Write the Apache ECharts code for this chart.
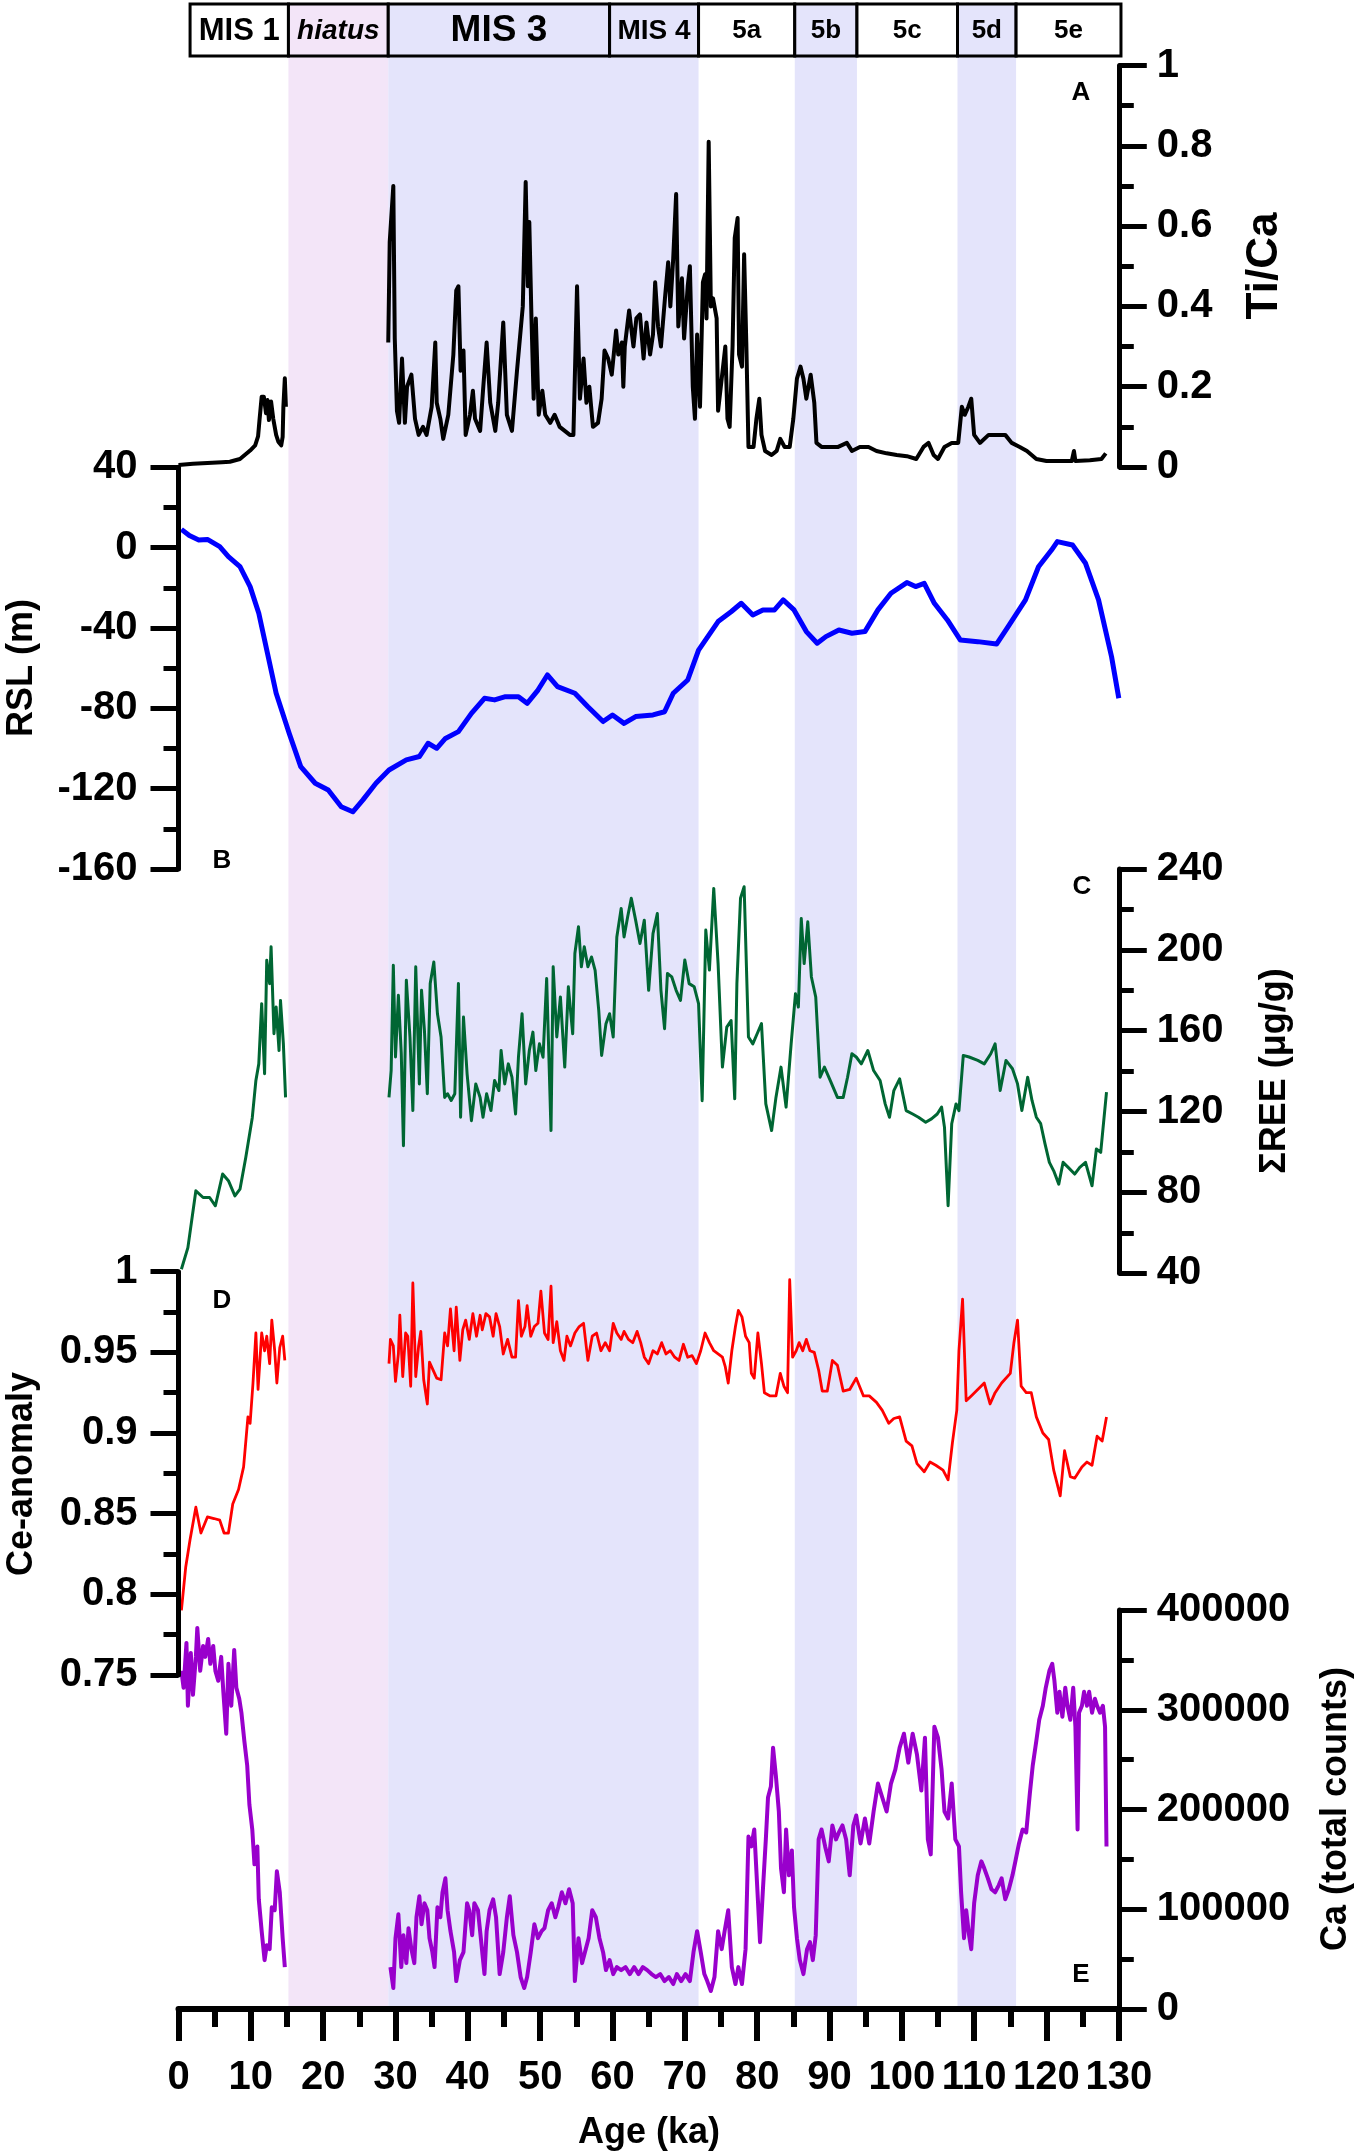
<!DOCTYPE html>
<html><head><meta charset="utf-8">
<script src="https://cdn.jsdelivr.net/npm/echarts@6/dist/echarts.min.js"></script>
<style>html,body{margin:0;padding:0;background:#fff}#c{width:1355px;height:2153px}</style>
</head><body><div id="c"></div>
<script>
// ---------- DATA ----------
const misLabels = ['MIS 1','hiatus','MIS 3','MIS 4','5a','5b','5c','5d','5e'];
const misStart  = [1.6, 15.2, 29.0, 59.6, 71.9, 85.2, 93.8, 107.7, 115.8];
const misEnd    = [15.2, 29.0, 59.6, 71.9, 85.2, 93.8, 107.7, 115.8, 130.3];

const bandLabels = ['hiatus','MIS 3-4','5b','5d'];
const bandStart  = [15.2, 29.0, 85.2, 107.7];
const bandEnd    = [29.0, 71.9, 93.8, 115.8];

const xTicks = [0,10,20,30,40,50,60,70,80,90,100,110,120,130];

// A: Ti/Ca
const tiAge1 = [0,2,4,6,7.1,8.5,9.9,10.6,11.0,11.2,11.5,11.8,12.1,12.3,12.5,12.8,13.1,13.5,13.8,14.2,14.4,14.5,14.7,14.85];
const tiVal1 = [0.005,0.008,0.01,0.012,0.013,0.02,0.041,0.054,0.076,0.117,0.175,0.175,0.134,0.167,0.117,0.163,0.12,0.08,0.063,0.054,0.075,0.15,0.221,0.15];
const tiAge2 = [29.0,29.2,29.7,29.9,30.2,30.5,30.9,31.3,31.6,32.2,32.7,33.2,33.8,34.3,35.0,35.5,35.7,36.2,36.6,37.3,38.0,38.4,38.7,39.0,39.4,39.7,40.3,40.7,41.0,41.7,42.1,42.6,43.1,43.8,44.2,44.9,45.4,46.1,46.8,47.1,47.6,48.0,48.3,48.5,48.8,49.1,49.4,49.8,50.3,50.7,51.4,52.0,52.7,53.4,54.1,54.6,55.1,55.5,56.0,56.4,56.8,57.3,58.0,58.5,58.9,59.4,59.9,60.5,60.8,61.3,61.5,61.7,62.3,62.9,63.3,63.8,64.3,64.7,65.2,65.6,65.9,66.3,66.7,67.3,67.7,68.0,68.4,68.8,69.1,69.6,69.9,70.4,70.7,71.1,71.4,71.7,72.1,72.5,72.8,73.0,73.3,73.6,73.9,74.4,74.6,75.1,75.6,75.9,76.2,76.6,76.9,77.3,77.5,77.9,78.2,78.5,78.8,79.5,79.9,80.3,80.6,81.1,82.0,82.7,83.2,83.8,84.5,85.0,85.5,86.0,86.4,86.8,87.4,87.9,88.2,88.9,90.1,91.2,92.4,93.1,94.2,95.4,96.5,97.9,99.3,100.7,102.0,103.0,103.7,104.4,105.0,105.9,106.9,107.8,108.3,108.7,109.2,109.6,110.0,110.8,112.0,113.1,114.3,115.2,116.3,117.3,118.6,120.0,121.9,123.5,123.8,124.0,126.0,127.6,128.2];
const tiVal2 = [0.31,0.56,0.70,0.32,0.14,0.11,0.27,0.11,0.20,0.23,0.12,0.08,0.10,0.08,0.15,0.31,0.16,0.12,0.07,0.13,0.28,0.44,0.45,0.24,0.29,0.08,0.13,0.19,0.12,0.09,0.19,0.31,0.16,0.09,0.16,0.36,0.13,0.09,0.24,0.30,0.40,0.71,0.45,0.61,0.37,0.17,0.37,0.13,0.19,0.13,0.11,0.13,0.10,0.09,0.08,0.08,0.45,0.17,0.27,0.16,0.20,0.10,0.11,0.17,0.29,0.27,0.23,0.34,0.28,0.31,0.20,0.30,0.39,0.30,0.37,0.38,0.27,0.36,0.28,0.33,0.46,0.35,0.30,0.43,0.51,0.40,0.52,0.68,0.35,0.47,0.32,0.45,0.50,0.20,0.12,0.33,0.15,0.46,0.48,0.37,0.81,0.40,0.42,0.37,0.14,0.22,0.30,0.12,0.10,0.30,0.57,0.62,0.28,0.25,0.53,0.31,0.05,0.05,0.12,0.17,0.08,0.04,0.03,0.04,0.07,0.05,0.05,0.12,0.22,0.25,0.22,0.17,0.23,0.16,0.06,0.05,0.05,0.05,0.06,0.04,0.05,0.05,0.04,0.034,0.03,0.027,0.02,0.05,0.06,0.03,0.02,0.05,0.06,0.06,0.15,0.13,0.15,0.17,0.08,0.06,0.08,0.08,0.08,0.06,0.05,0.04,0.02,0.015,0.015,0.015,0.04,0.015,0.017,0.02,0.034];

// B: RSL (m)
const rslAge = [0.4,1.5,2.8,4.0,5.7,6.9,8.5,9.9,11.1,12.3,13.5,15.3,16.9,18.9,20.7,22.5,24.1,25.5,27.3,29.1,31.5,33.3,34.5,35.7,36.9,38.7,40.5,42.3,43.7,45.2,47.0,48.2,49.7,51.0,52.4,54.8,56.6,58.7,60.0,61.6,63.2,65.6,67.2,68.4,70.4,71.9,74.6,76.4,77.8,79.4,80.8,82.4,83.6,85.1,86.8,88.3,89.5,91.3,93.1,94.9,96.7,98.5,100.7,101.9,103.1,104.5,106.3,108.1,110.5,113.1,114.7,117.1,118.9,120.7,121.5,123.6,125.4,127.2,129.0,130.0];
const rslVal = [9.1,6,3.8,4.1,0.5,-4.5,-9.5,-19.4,-32.7,-52.6,-72.5,-92.4,-109,-117.3,-120.7,-129,-131.5,-125.6,-117.3,-110.7,-105.7,-104,-97.4,-99.9,-95,-91.6,-82.5,-75,-75.8,-74.2,-74.2,-77.5,-70.9,-63.4,-69.2,-72.5,-79.2,-86.6,-83.3,-87.5,-84.1,-83.3,-81.7,-72.5,-65.9,-51,-36.8,-31.9,-27.7,-33.5,-31,-31,-26,-31,-41.8,-47.6,-44.3,-41,-42.6,-41.8,-31,-22.7,-17.4,-19.4,-17.8,-27.7,-36,-46,-46.8,-48,-39.3,-26,-9.5,-1.2,3,1.3,-7.8,-26,-54.3,-75];

// C: sum REE (µg/g)
const reeAge1 = [0.4,1.3,2.4,3.4,4.3,5.1,6.1,6.9,7.8,8.5,9.3,10.2,10.7,11.1,11.5,11.9,12.2,12.6,12.8,13.2,13.5,13.9,14.1,14.5,14.8];
const reeVal1 = [42,52.7,80.8,77.5,77.5,73.4,89.1,85.8,78.3,81.6,97.3,117,135.4,143.6,173.4,138.7,194.9,183.3,201.5,158.5,171.7,150.2,175,153.5,127];
const reeAge2 = [29.1,29.4,29.7,30.0,30.4,30.8,31.1,31.5,32.0,32.4,32.8,33.3,33.6,34.0,34.4,34.8,35.3,35.8,36.3,36.8,37.2,37.7,38.2,38.7,39.0,39.4,39.9,40.5,41.1,41.7,42.1,42.6,43.2,43.7,44.3,44.6,45.1,45.6,46.1,46.6,47.0,47.5,48.0,48.5,49.0,49.4,49.9,50.4,50.9,51.5,51.8,52.3,52.8,53.4,53.9,54.5,54.8,55.3,55.7,56.1,56.6,57.1,57.6,58.1,58.5,59.1,59.6,60.1,60.6,61.2,61.6,62.1,62.6,63.2,63.8,64.4,65.0,65.6,66.2,66.7,67.2,67.6,68.2,68.8,69.4,70.0,70.6,71.3,71.9,72.4,72.9,73.4,74.0,74.6,75.2,75.8,76.4,76.9,77.2,77.7,78.2,78.8,79.4,80.0,80.6,81.2,82.0,82.6,83.3,84.0,84.7,85.3,85.7,86.1,86.5,87.0,87.5,88.1,88.7,89.3,90.1,91.1,91.9,92.5,93.1,93.7,94.4,95.3,96.1,97.0,97.7,98.3,98.9,99.7,100.6,101.5,102.3,103.3,104.1,104.9,105.5,105.9,106.4,106.9,107.5,107.9,108.5,109.3,110.5,111.4,112.3,112.9,113.6,114.4,115.3,116.0,116.6,117.4,118.0,118.6,119.2,119.8,120.4,121.0,121.7,122.3,123.0,123.9,124.6,125.4,126.3,126.9,127.5,128.3];
const reeVal2 = [127,140.3,192.4,147,177.5,148.6,103.1,185,156.9,120.5,191.6,133.7,180,160.2,128.8,183.3,194,168.4,156.9,127,128.8,125.5,128.8,183.3,117.2,166.8,138.7,115.5,133.7,127,117.2,128.8,120.5,135.4,130.4,150.2,133.7,143.6,137,118.8,146.9,168.4,133.7,150.2,159.3,140.3,153.5,146.9,185.8,110.6,191.6,156.9,176.7,142,181.7,158.5,198.2,211.4,191.6,201.5,191.6,196.5,189.9,170.1,147.8,163.5,168.4,156.9,206.4,220.5,206.4,216.4,225.5,214.7,203.1,214.7,180,208,218,180,161,188.3,186.6,180,175,195,183.3,181.7,173.4,125.4,209.8,190,230.4,193.2,142,161.8,165,126.3,183.3,225.5,231.2,156.9,153.5,158.5,163.5,123.8,110.6,127,142,122.2,153.5,178.3,171.7,215.5,193.2,213.9,186.6,176.7,137,142,135.4,127,127,137,148.6,147,143.6,150.2,140.3,135.4,123.8,117.2,130.4,136.2,120.5,118.8,117.2,114.7,116.4,118.8,122.2,112.2,73.4,114,123.8,120.5,147.8,147,145.3,143.6,148.6,153.5,130.4,145.3,141.2,133.7,120.5,137,125.5,117.2,114,104,94.9,90.7,84.1,94.9,92.4,89.1,92.4,94.9,83.3,101.5,99.8,129.6];

// D: Ce-anomaly
const ceAge1 = [0.4,1.0,1.6,2.4,3.1,4.0,4.9,5.7,6.3,6.9,7.5,8.3,9.0,9.6,9.9,10.3,10.7,11.0,11.5,11.9,12.2,12.6,12.9,13.3,13.6,14.0,14.4,14.7];
const ceVal1 = [0.790,0.817,0.834,0.854,0.838,0.848,0.847,0.846,0.838,0.838,0.856,0.865,0.879,0.910,0.906,0.931,0.962,0.927,0.962,0.951,0.960,0.943,0.970,0.951,0.931,0.953,0.960,0.945];
const ceAge2 = [29.1,29.3,29.7,30.0,30.4,30.6,31.0,31.4,31.7,32.1,32.4,32.8,33.2,33.5,33.9,34.4,34.7,35.2,35.7,36.3,36.8,37.2,37.6,38.1,38.4,38.9,39.3,39.7,40.2,40.7,41.2,41.7,42.0,42.5,43.0,43.5,43.9,44.4,44.9,45.5,46.1,46.6,47.0,47.4,47.9,48.2,48.7,49.2,49.7,50.1,50.6,51.1,51.5,51.8,52.3,52.8,53.3,53.7,54.2,54.8,55.4,56.0,56.6,57.2,57.8,58.4,59.0,59.6,60.1,60.6,61.2,61.6,62.2,62.8,63.4,63.9,64.4,65.0,65.6,66.2,66.8,67.4,68.0,68.6,69.2,69.8,70.4,71.0,71.6,72.2,72.8,73.4,74.0,74.6,75.2,75.6,76.0,76.5,77.0,77.4,77.9,78.4,78.9,79.2,79.6,80.1,80.6,81.0,81.8,82.6,83.2,83.7,84.2,84.5,84.9,85.4,85.8,86.3,86.8,87.3,87.9,88.5,89.0,89.7,90.4,91.1,91.9,92.8,93.7,94.7,95.5,96.5,97.3,98.2,98.9,99.7,100.6,101.4,102.1,103.1,103.9,104.7,105.7,106.4,107.0,107.6,107.9,108.4,108.9,109.6,110.5,111.4,112.2,112.9,113.8,115.0,115.5,116.0,116.5,117.2,117.9,118.6,119.5,120.3,121.0,121.9,122.5,123.3,123.9,124.9,125.6,126.3,127.0,127.7,128.3];
const ceVal2 = [0.943,0.958,0.954,0.932,0.949,0.973,0.935,0.962,0.960,0.929,0.993,0.935,0.954,0.963,0.933,0.918,0.944,0.939,0.934,0.933,0.962,0.954,0.977,0.951,0.978,0.945,0.964,0.970,0.958,0.974,0.960,0.973,0.964,0.974,0.972,0.960,0.974,0.966,0.949,0.958,0.947,0.947,0.982,0.960,0.966,0.979,0.960,0.966,0.968,0.988,0.962,0.958,0.991,0.956,0.969,0.951,0.945,0.960,0.954,0.962,0.966,0.968,0.945,0.960,0.962,0.951,0.956,0.951,0.968,0.962,0.958,0.963,0.958,0.956,0.963,0.956,0.947,0.943,0.951,0.949,0.956,0.949,0.951,0.947,0.945,0.955,0.947,0.948,0.943,0.951,0.962,0.956,0.951,0.949,0.947,0.941,0.931,0.951,0.966,0.976,0.972,0.960,0.956,0.937,0.934,0.962,0.943,0.925,0.923,0.923,0.937,0.929,0.925,0.995,0.947,0.951,0.956,0.951,0.958,0.951,0.950,0.939,0.926,0.926,0.945,0.942,0.926,0.927,0.934,0.923,0.923,0.919,0.914,0.906,0.909,0.910,0.895,0.892,0.881,0.876,0.882,0.880,0.877,0.871,0.894,0.914,0.951,0.983,0.920,0.923,0.927,0.931,0.918,0.925,0.931,0.937,0.956,0.970,0.929,0.925,0.925,0.910,0.900,0.896,0.877,0.861,0.889,0.873,0.872,0.879,0.882,0.880,0.898,0.895,0.910];

// E: Ca (total counts)
const caAge1 = [0.4,0.7,1.1,1.3,1.7,2.0,2.4,2.6,3.0,3.4,3.7,4.1,4.4,4.8,5.1,5.5,5.9,6.2,6.6,6.9,7.3,7.7,8.0,8.4,8.7,9.1,9.5,9.8,10.2,10.5,10.9,11.1,11.5,11.9,12.2,12.6,12.9,13.3,13.6,14.0,14.4,14.7];
const caVal1 = [339000,322000,367000,304000,357000,315000,353000,382000,339000,364000,353000,371000,346000,364000,339000,329000,353000,318000,276000,346000,304000,360000,322000,311000,297000,269000,244000,205000,180000,145000,163000,110000,78000,49000,64000,60000,102000,99000,138000,117000,71000,42000];
const caAge2 = [29.3,29.7,30.0,30.4,30.8,31.1,31.5,31.8,32.2,32.6,32.9,33.3,33.6,34.0,34.4,34.7,35.1,35.4,35.8,36.2,36.5,36.9,37.2,37.6,38.1,38.4,38.9,39.4,39.9,40.2,40.6,40.9,41.4,41.8,42.3,42.6,43.0,43.5,43.9,44.4,44.9,45.4,45.8,46.3,46.8,47.3,47.8,48.2,48.7,49.2,49.7,50.2,50.6,51.1,51.6,52.1,52.5,53.0,53.5,54.0,54.5,54.8,55.3,55.8,56.3,56.7,57.2,57.7,58.2,58.7,59.1,59.6,60.1,60.6,61.2,61.8,62.4,63.0,63.6,64.2,64.8,65.4,66.0,66.6,67.2,67.8,68.4,68.9,69.5,70.1,70.7,71.2,71.7,72.2,72.7,73.1,73.6,74.1,74.6,75.1,75.5,76.0,76.5,77.0,77.4,77.9,78.4,78.8,79.2,79.6,80.1,80.4,80.8,81.2,81.5,81.9,82.2,82.6,83.0,83.3,83.7,84.0,84.4,84.8,85.1,85.5,85.9,86.4,86.9,87.3,87.7,88.1,88.5,88.9,89.4,89.9,90.4,90.9,91.3,91.8,92.3,92.8,93.3,93.7,94.3,94.9,95.5,96.1,96.7,97.3,97.9,98.5,99.1,99.7,100.3,100.9,101.5,102.1,102.7,103.2,103.6,104.0,104.5,105.0,105.5,105.9,106.4,106.9,107.4,107.9,108.2,108.6,108.9,109.3,109.6,110.0,110.5,111.0,111.4,111.9,112.4,112.9,113.4,113.8,114.3,114.8,115.3,115.7,116.2,116.7,117.2,117.7,118.1,118.6,119.0,119.5,119.9,120.4,120.8,121.1,121.5,121.8,122.2,122.6,122.9,123.3,123.7,124.0,124.3,124.5,124.9,125.2,125.6,125.9,126.3,126.7,127.0,127.4,127.8,128.1,128.3];
const caVal2 = [42000,21000,71000,95000,42000,74000,46000,81000,60000,46000,92000,113000,85000,106000,99000,71000,57000,42000,102000,92000,117000,131000,99000,78000,57000,28000,49000,57000,106000,99000,74000,106000,99000,71000,35000,78000,99000,110000,92000,35000,57000,92000,113000,74000,57000,32000,21000,32000,57000,85000,71000,78000,81000,99000,106000,92000,102000,117000,106000,120000,106000,28000,71000,46000,60000,71000,99000,92000,71000,57000,39000,49000,35000,42000,39000,42000,35000,42000,35000,42000,39000,35000,32000,35000,28000,32000,25000,35000,28000,35000,28000,57000,78000,57000,35000,28000,18000,32000,78000,60000,78000,99000,42000,25000,42000,25000,60000,173000,163000,180000,110000,67000,120000,170000,212000,223000,262000,233000,198000,141000,117000,180000,134000,159000,102000,71000,49000,35000,60000,67000,49000,74000,170000,180000,163000,148000,184000,170000,177000,184000,170000,134000,184000,194000,166000,191000,166000,198000,226000,212000,198000,226000,240000,262000,276000,247000,276000,255000,219000,272000,170000,155000,283000,272000,240000,198000,191000,226000,170000,163000,117000,71000,99000,74000,60000,106000,134000,148000,141000,131000,120000,117000,124000,131000,110000,120000,134000,148000,166000,180000,177000,216000,244000,269000,290000,304000,322000,339000,346000,329000,297000,318000,293000,322000,304000,290000,322000,283000,180000,297000,304000,318000,304000,318000,297000,311000,304000,297000,304000,283000,163000];

// ---------- CHART ----------
const FONT = "'Liberation Sans', Arial, Helvetica, sans-serif";
const PINK = '#f3e5f8';
const LAV  = '#e4e4fb';
const GL = 178.5, GR = 1355 - 1118.8;
const zip = (a, b) => a.map((x, i) => [x, b[i]]);

const gridDefs = [
  {top: 4, height: 52},        // 0 MIS box
  {top: 4, height: 2005},      // 1 background bands
  {top: 65.5, height: 401.5},  // 2 A
  {top: 467.3, height: 401.7}, // 3 B
  {top: 869, height: 404.3},   // 4 C
  {top: 1271.7, height: 403.3},// 5 D
  {top: 1610, height: 399}     // 6 E
];

function hiddenX(i) { return {type: 'value', gridIndex: i, min: 0, max: 130, show: false}; }
function hiddenY(i) { return {type: 'value', gridIndex: i, min: 0, max: 1, show: false}; }
function yAx(i, pos, min, max, interval, fmt) {
  return {
    type: 'value', gridIndex: i, position: pos, min, max, interval, z: 10,
    axisLine: {show: true, onZero: false, lineStyle: {color: '#000', width: 5}},
    axisTick: {show: true, length: 28, lineStyle: {color: '#000', width: 5}},
    minorTick: {show: true, splitNumber: 2, length: 15, lineStyle: {color: '#000', width: 5}},
    splitLine: {show: false}, minorSplitLine: {show: false},
    axisLabel: {show: true, margin: pos === 'right' ? 38 : 41, color: '#000', fontSize: 40,
      fontWeight: 'bold', fontFamily: FONT, formatter: fmt}
  };
}

const xAxes = [0,1,2,3,4,5].map(hiddenX);
xAxes.push({
  type: 'value', gridIndex: 6, min: 0, max: 130, interval: 10, position: 'bottom', z: 10,
  axisLine: {show: true, onZero: false, lineStyle: {color: '#000', width: 6}},
  axisTick: {show: true, length: 32, lineStyle: {color: '#000', width: 6}},
  minorTick: {show: true, splitNumber: 2, length: 18, lineStyle: {color: '#000', width: 6}},
  splitLine: {show: false},
  axisLabel: {color: '#000', fontSize: 40, fontWeight: 'bold', fontFamily: FONT, margin: 49,
    formatter: v => xTicks.includes(v) ? String(v) : ''}
});

const yAxes = [
  hiddenY(0), hiddenY(1),
  yAx(2, 'right', 0, 1, 0.2),
  yAx(3, 'left', -160, 40, 40),
  yAx(4, 'right', 40, 240, 40),
  yAx(5, 'left', 0.75, 1, 0.05),
  yAx(6, 'right', 0, 400000, 100000, v => String(v))
];

function lineSeries(idx, age, val, color, width) {
  return {type: 'line', xAxisIndex: idx, yAxisIndex: idx, data: zip(age, val),
    symbol: 'none', showSymbol: false, z: 4, silent: true,
    lineStyle: {color, width, join: 'round'}};
}

function misFont(label) {
  if (label === 'MIS 3') return 37;
  if (label === 'MIS 1') return 31;
  if (label === 'MIS 4' || label === 'hiatus') return 28;
  return 26;
}
function misFill(label) {
  if (label === 'hiatus') return PINK;
  if (['MIS 3','MIS 4','5b','5d'].includes(label)) return LAV;
  return '#fff';
}

const series = [
  { // background bands
    type: 'custom', xAxisIndex: 1, yAxisIndex: 1, z: 1, silent: true,
    data: bandLabels.map((l, i) => [bandStart[i], bandEnd[i], i]),
    renderItem(params, api) {
      const p0 = api.coord([api.value(0), 1]);
      const p1 = api.coord([api.value(1), 0]);
      const lab = bandLabels[api.value(2)];
      return {type: 'rect', shape: {x: p0[0], y: p0[1], width: p1[0] - p0[0], height: p1[1] - p0[1]},
        style: {fill: lab === 'hiatus' ? PINK : LAV}};
    }
  },
  { // MIS box
    type: 'custom', xAxisIndex: 0, yAxisIndex: 0, z: 6, silent: true,
    data: misLabels.map((l, i) => [misStart[i], misEnd[i], i]),
    renderItem(params, api) {
      const p0 = api.coord([api.value(0), 1]);
      const p1 = api.coord([api.value(1), 0]);
      const lab = misLabels[api.value(2)];
      return {type: 'group', children: [
        {type: 'rect', shape: {x: p0[0], y: p0[1], width: p1[0] - p0[0], height: p1[1] - p0[1]},
          style: {fill: misFill(lab), stroke: '#000', lineWidth: 3}},
        {type: 'text', x: (p0[0] + p1[0]) / 2, y: (p0[1] + p1[1]) / 2 + 1,
          style: {text: lab, fill: '#000', fontSize: misFont(lab), fontWeight: 'bold',
            fontStyle: lab === 'hiatus' ? 'italic' : 'normal', fontFamily: FONT,
            align: 'center', verticalAlign: 'middle'}}
      ]};
    }
  },
  lineSeries(2, tiAge1, tiVal1, '#000', 4),
  lineSeries(2, tiAge2, tiVal2, '#000', 4),
  lineSeries(3, rslAge, rslVal, '#0000ff', 5),
  lineSeries(4, reeAge1, reeVal1, '#006633', 3),
  lineSeries(4, reeAge2, reeVal2, '#006633', 3),
  lineSeries(5, ceAge1, ceVal1, '#ff0000', 2.8),
  lineSeries(5, ceAge2, ceVal2, '#ff0000', 2.8),
  lineSeries(6, caAge1, caVal1, '#9900cc', 4),
  lineSeries(6, caAge2, caVal2, '#9900cc', 4)
];

function txt(text, x, y, size, rot) {
  return {type: 'text', x, y, rotation: rot || 0, z: 20, silent: true,
    style: {text, fill: '#000', fontSize: size, fontWeight: 'bold', fontFamily: FONT,
      align: 'center', verticalAlign: 'middle'}};
}
const R90 = Math.PI / 2;
const graphic = [
  txt('Ti/Ca', 1265, 266, 44, R90),
  txt('RSL (m)', 22, 668, 36, R90),
  txt('\u03A3REE (\u03BCg/g)', 1275, 1071, 36, R90),
  txt('Ce-anomaly', 22, 1474, 36, R90),
  txt('Ca (total counts)', 1336, 1809, 36, R90),
  txt('Age (ka)', 649, 2133, 36, 0),
  txt('A', 1081, 93, 26, 0),
  txt('B', 222, 861, 26, 0),
  txt('C', 1082, 887, 26, 0),
  txt('D', 222, 1301, 26, 0),
  txt('E', 1081, 1975, 26, 0)
];

const chart = echarts.init(document.getElementById('c'), null, {renderer: 'canvas'});
chart.setOption({
  animation: false,
  backgroundColor: '#fff',
  grid: gridDefs.map(g => ({left: GL, right: GR, top: g.top, height: g.height, containLabel: false})),
  xAxis: xAxes,
  yAxis: yAxes,
  series,
  graphic
});
</script>
</body></html>
